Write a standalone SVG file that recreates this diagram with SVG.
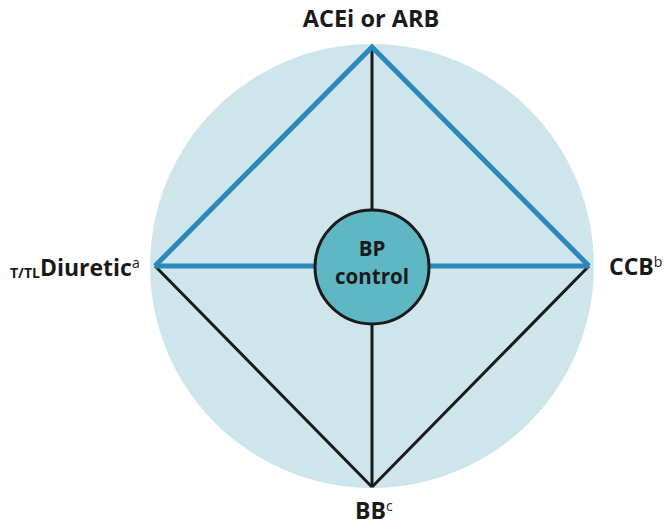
<svg xmlns="http://www.w3.org/2000/svg" width="664" height="527" viewBox="0 0 664 527">
<style>
.lbl{font-family:"Open Sans","Liberation Sans",sans-serif;font-weight:700;fill:#1a1a1a}
.blue{stroke:#2b88b9;stroke-width:5;fill:none;stroke-linejoin:miter}
.blk{stroke:#1a1a1a;stroke-width:3;fill:none}
</style>
<rect width="664" height="527" fill="#fff"/>
<g id="background"><circle cx="372" cy="266" r="222" fill="#cde5eb"/></g>
<g id="connectors">
<line class="blk" x1="372" y1="46" x2="372" y2="487"/>
<line class="blk" x1="155" y1="266" x2="372" y2="487"/>
<line class="blk" x1="589" y1="266" x2="372" y2="487"/>
<line class="blue" x1="155" y1="266" x2="589" y2="266"/>
<polyline class="blue" points="155,266 372,47 589,266"/>
</g>
<g id="center"><circle cx="372" cy="267" r="57" fill="#5eb7c3" stroke="#1a1a1a" stroke-width="3"/>
<text class="lbl" x="372" y="256" font-size="20.5" text-anchor="middle">BP</text>
<text class="lbl" x="372" y="284" font-size="20.5" text-anchor="middle">control</text></g>
<g id="acei"><text class="lbl" x="371" y="27" font-size="23.5" text-anchor="middle">ACEi or ARB</text></g>
<g id="ccb"><text class="lbl" x="609" y="275" font-size="23">CCB<tspan font-weight="400" font-size="14" dy="-8">b</tspan></text></g>
<g id="bb"><text class="lbl" x="355" y="519" font-size="23">BB<tspan font-weight="400" font-size="14" dy="-8">c</tspan></text></g>
<g id="diuretic"><text class="lbl" x="10" y="276" font-size="23"><tspan font-size="14" dy="2">T/TL</tspan><tspan dy="-2">Diuretic</tspan><tspan font-weight="400" font-size="14" dy="-8">a</tspan></text></g>
</svg>
